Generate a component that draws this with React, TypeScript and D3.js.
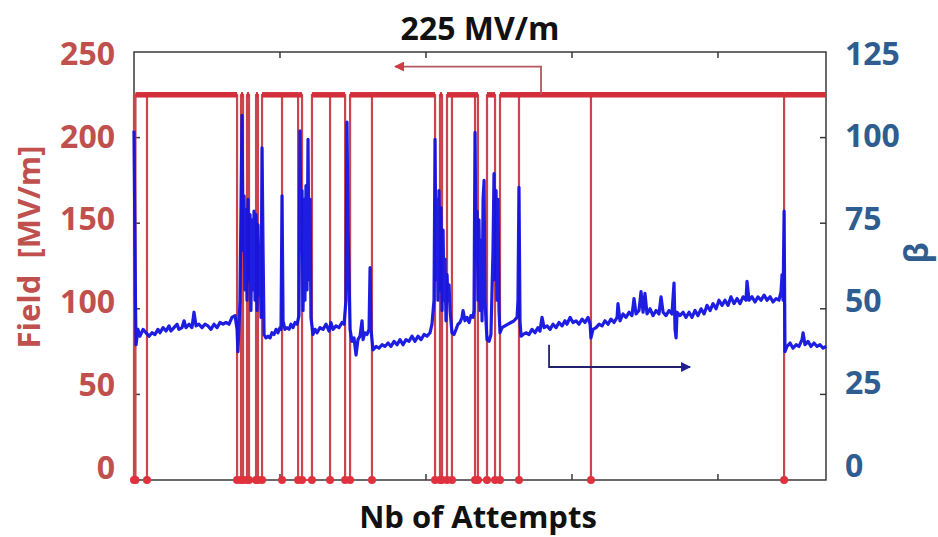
import React from 'react'
import * as d3 from 'd3'

const W = 938
const H = 537
const margin = { top: 52, right: 112, bottom: 57, left: 134 }

// x axis: number of attempts (no tick labels in the original)
const attemptsMax = 4740
const attemptTicks = [1000, 2000, 3000, 4000]

const fieldTicks = [0, 50, 100, 150, 200, 250]
const betaTicks = [0, 25, 50, 75, 100, 125]
const innerFieldTicks = [50, 100, 150, 200]
const innerBetaTicks = [25, 50, 75, 100]

const fieldLevel = 225

// periods (attempt from -> to) where the field dropped to 0 after a breakdown
const fieldDrops: [number, number][] = [
  [0, 10], [89, 89], [706, 733], [747, 774], [788, 836], [849, 877],
  [1014, 1014], [1124, 1124], [1151, 1219], [1343, 1343], [1446, 1480],
  [1630, 1630], [2062, 2096], [2110, 2144], [2178, 2178], [2336, 2336],
  [2356, 2418], [2473, 2507], [2637, 2637], [3130, 3130], [4453, 4453],
]

// field enhancement factor beta vs attempt
const betaTrace: [number, number][] = [
  [0, 102], [10, 52.5], [14, 39.5], [27, 44], [41, 42], [62, 44], [82, 43], [103, 42],
  [123, 43], [144, 42.5], [164, 44], [178, 43], [199, 44.5], [219, 43.5], [240, 45],
  [253, 43.5], [274, 44.5], [295, 45.5], [308, 44], [329, 44.5], [343, 46.5], [356, 44.5],
  [377, 45.5], [397, 44.5], [411, 49], [425, 45], [445, 45.5], [466, 44.5], [486, 45.5],
  [507, 45], [527, 44], [548, 45.5], [569, 44.5], [589, 46], [610, 45.5], [630, 46],
  [651, 45.5], [671, 47.5], [692, 48], [706, 44], [712, 37.5], [726, 52.5], [740, 106.5],
  [747, 67], [754, 83], [760, 55.5], [767, 79], [774, 52.5], [781, 82], [788, 58.5],
  [795, 77.5], [801, 49.5], [808, 76], [815, 55.5], [822, 78.5], [829, 52.5], [836, 77.5],
  [843, 49.5], [849, 74.5], [856, 54], [863, 64.5], [870, 47.5], [877, 97], [884, 67],
  [891, 42.5], [904, 41.5], [918, 42], [932, 41.5], [945, 43], [959, 42.5], [973, 44],
  [986, 43], [1000, 44.5], [1007, 44], [1014, 83], [1021, 46.5], [1034, 44], [1048, 44.5],
  [1062, 44], [1075, 45.5], [1089, 44.5], [1103, 46], [1117, 45.5], [1130, 48], [1137, 102],
  [1144, 67], [1151, 84.5], [1158, 49.5], [1165, 82], [1171, 52.5], [1178, 86], [1185, 55.5],
  [1192, 99.5], [1199, 58.5], [1206, 82], [1212, 47.5], [1226, 42.5], [1240, 44], [1254, 43],
  [1274, 44.5], [1295, 44], [1315, 45.5], [1336, 43.5], [1349, 46], [1363, 44], [1384, 45],
  [1404, 44.5], [1425, 46], [1439, 45.5], [1452, 52.5], [1459, 104.5], [1466, 73], [1473, 58.5],
  [1480, 44], [1493, 40.5], [1507, 41.5], [1521, 36.5], [1534, 41], [1548, 42], [1562, 46.5],
  [1569, 41], [1582, 43], [1596, 42.5], [1610, 44], [1617, 62], [1623, 44], [1637, 38],
  [1658, 39], [1678, 38.5], [1699, 39.5], [1719, 39], [1740, 40], [1760, 39], [1781, 40.5],
  [1802, 39.5], [1822, 41], [1843, 39.5], [1863, 41], [1884, 40.5], [1904, 42], [1925, 40.5],
  [1945, 42], [1966, 41], [1987, 42.5], [2007, 42], [2028, 43], [2041, 45.5], [2055, 52.5],
  [2062, 99.5], [2069, 58.5], [2076, 82], [2082, 52.5], [2089, 84.5], [2096, 55.5], [2103, 79.5],
  [2110, 49.5], [2117, 73], [2124, 52.5], [2130, 64.5], [2137, 46.5], [2144, 60], [2151, 52.5],
  [2158, 57], [2165, 49.5], [2178, 43], [2192, 42.5], [2206, 44], [2219, 45.5], [2233, 46],
  [2247, 47.5], [2254, 49.5], [2267, 46.5], [2281, 47.5], [2295, 46], [2308, 48], [2322, 47.5],
  [2329, 49.5], [2336, 101.5], [2343, 64.5], [2350, 78.5], [2356, 52.5], [2363, 76], [2370, 49.5],
  [2377, 70], [2384, 46.5], [2391, 82], [2398, 87.5], [2404, 52.5], [2411, 46.5], [2418, 41],
  [2432, 40.5], [2445, 42.5], [2459, 67], [2466, 89.5], [2473, 58.5], [2480, 84.5], [2487, 52.5],
  [2493, 82], [2500, 49.5], [2507, 43], [2521, 44.5], [2541, 45], [2562, 45.5], [2582, 46],
  [2603, 46.5], [2624, 47.5], [2630, 52.5], [2637, 85.5], [2644, 46.5], [2651, 42], [2665, 42.5],
  [2685, 43], [2706, 42.5], [2726, 44], [2747, 43], [2767, 44.5], [2781, 43.5], [2795, 47.5],
  [2809, 44.5], [2829, 45], [2850, 44], [2870, 45.5], [2891, 44.5], [2911, 46], [2932, 45],
  [2952, 46.5], [2966, 45.5], [2987, 47.5], [3007, 46], [3028, 46.5], [3048, 45.5], [3069, 47],
  [3089, 46], [3110, 47.5], [3124, 45.5], [3130, 41.5], [3144, 44], [3165, 44.5], [3185, 45.5],
  [3206, 45], [3226, 46.5], [3247, 45.5], [3267, 47], [3288, 46], [3309, 47.5], [3315, 51.5],
  [3329, 46.5], [3350, 48.5], [3370, 47.5], [3391, 49], [3411, 48], [3425, 53], [3439, 48.5],
  [3459, 49.5], [3473, 55], [3487, 49], [3500, 54.5], [3514, 48.5], [3535, 50], [3555, 48],
  [3576, 49.5], [3596, 48.5], [3610, 53.5], [3624, 49], [3644, 48], [3665, 49.5], [3685, 48.5],
  [3699, 57.5], [3706, 44], [3713, 41.5], [3720, 49], [3740, 48], [3761, 49], [3781, 47.5],
  [3802, 49], [3822, 47.5], [3843, 49.5], [3863, 48], [3884, 50], [3905, 48.5], [3925, 51],
  [3946, 49.5], [3966, 51.5], [3987, 50], [4007, 52.5], [4028, 51], [4048, 52.5], [4069, 51],
  [4089, 53.5], [4110, 51.5], [4131, 53], [4151, 51.5], [4172, 53.5], [4192, 52.5], [4199, 58],
  [4213, 52.5], [4233, 53.5], [4254, 52], [4274, 53.5], [4295, 52.5], [4316, 54], [4336, 52.5],
  [4357, 53.5], [4377, 52], [4398, 53], [4418, 52.5], [4432, 55], [4439, 60], [4446, 52.5],
  [4453, 78.5], [4459, 37.5], [4473, 39], [4494, 40], [4514, 38.5], [4535, 39.5], [4555, 39],
  [4576, 41], [4583, 43], [4596, 39.5], [4617, 40.5], [4637, 39], [4658, 40], [4679, 39],
  [4699, 39.5], [4720, 38.5], [4740, 39],
]

// annotation arrows (which axis each curve belongs to)
const fieldArrow: [number, number][] = [[2788, 225], [2788, 241.5], [1788, 241.5]]
const betaArrow: [number, number][] = [[2843, 39.5], [2843, 33], [3809, 33]]

const RED_TXT = '#c0504d'
const BLUE_TXT = '#2f5d8f'
const FONT = '"Open Sans", "DejaVu Sans", sans-serif'

export default function App() {
  const x = d3.scaleLinear().domain([0, attemptsMax]).range([margin.left, W - margin.right])
  const yField = d3.scaleLinear().domain([0, 250]).range([H - margin.bottom, margin.top])
  const yBeta = d3.scaleLinear().domain([0, 125]).range([H - margin.bottom, margin.top])
  // the tick labels were laid over the plot a little compressed
  const fieldLabelY = d3.scaleLinear().domain([0, 250]).range([466, 52.5])
  const betaLabelY = d3.scaleLinear().domain([0, 125]).range([464, 52.5])

  // build the field trace from the drop periods
  const fieldTrace: [number, number][] = [[0, fieldLevel]]
  fieldDrops.forEach(([a, b]) => {
    fieldTrace.push([a, fieldLevel], [a, 0], [b, 0], [b, fieldLevel])
  })
  fieldTrace.push([attemptsMax, fieldLevel])

  const plateaus: [number, number][] = []
  let last = 0
  fieldDrops.forEach(([a, b]) => {
    if (a > last) plateaus.push([last, a])
    last = b
  })
  plateaus.push([last, attemptsMax])

  const dots = Array.from(new Set(fieldDrops.flat()))

  const fieldLine = d3.line<[number, number]>().x(d => x(d[0])).y(d => yField(d[1]))
  const betaLine = d3.line<[number, number]>().x(d => x(d[0])).y(d => yBeta(d[1]))

  const x0 = margin.left
  const x1 = W - margin.right
  const y0 = H - margin.bottom
  const y1 = margin.top
  const tl = 6

  return (
    <svg width={W} height={H} style={{ position: 'absolute', left: 0, top: 0, background: '#fff' }}
      fontFamily={FONT} fontWeight="bold">
      <defs>
        <marker id="headRed" viewBox="0 0 10 10" refX="9" refY="5" markerWidth="10" markerHeight="10"
          markerUnits="userSpaceOnUse" orient="auto" >
          <path d="M0,0 L10,5 L0,10 Z" fill="#d23a45" />
        </marker>
        <marker id="headBlue" viewBox="0 0 10 10" refX="9" refY="5" markerWidth="10" markerHeight="10"
          markerUnits="userSpaceOnUse" orient="auto">
          <path d="M0,0 L10,5 L0,10 Z" fill="#1f1f8f" />
        </marker>
      </defs>

      {/* frame */}
      <rect x={x0} y={y1} width={x1 - x0} height={y0 - y1} fill="none" stroke="#3a3a3a" strokeWidth={1.5} />
      {attemptTicks.map(t => (
        <g key={'xt' + t} stroke="#3a3a3a" strokeWidth={1.5}>
          <line x1={x(t)} x2={x(t)} y1={y1} y2={y1 + tl} />
          <line x1={x(t)} x2={x(t)} y1={y0} y2={y0 - tl} />
        </g>
      ))}
      {innerFieldTicks.map(t => (
        <line key={'ft' + t} x1={x0} x2={x0 + tl} y1={yField(t)} y2={yField(t)} stroke="#3a3a3a" strokeWidth={1.5} />
      ))}
      {innerBetaTicks.map(t => (
        <line key={'bt' + t} x1={x1} x2={x1 - tl} y1={yBeta(t)} y2={yBeta(t)} stroke="#3a3a3a" strokeWidth={1.5} />
      ))}

      {/* field trace */}
      <path d={fieldLine(fieldTrace) || ''} fill="none" stroke="#c9464e" strokeWidth={2.2} strokeLinejoin="round" />
      {plateaus.map(([a, b], i) => (
        <line key={'pl' + i} x1={x(a)} x2={x(b)} y1={yField(fieldLevel)} y2={yField(fieldLevel)}
          stroke="#d22f3a" strokeWidth={5.5} />
      ))}
      {dots.map(d => (
        <circle key={'dot' + d} cx={x(d)} cy={yField(0)} r={4} fill="#e0323e" />
      ))}

      {/* beta trace */}
      <path d={betaLine(betaTrace) || ''} fill="none" stroke="#1212e0" strokeWidth={3.2} strokeLinejoin="round"
        opacity={0.95} />

      {/* arrows */}
      <path d={fieldLine(fieldArrow) || ''} fill="none" stroke="#b0585d" strokeWidth={1.8} markerEnd="url(#headRed)" />
      <path d={betaLine(betaArrow) || ''} fill="none" stroke="#22226a" strokeWidth={1.8} markerEnd="url(#headBlue)" />

      {/* tick labels */}
      {fieldTicks.map(t => (
        <text key={'fl' + t} x={115} y={fieldLabelY(t)} textAnchor="end" dominantBaseline="central"
          fontSize={32} fill={RED_TXT}>{t}</text>
      ))}
      {betaTicks.map(t => (
        <text key={'bl' + t} x={845} y={betaLabelY(t)} textAnchor="start" dominantBaseline="central"
          fontSize={32} fill={BLUE_TXT}>{t}</text>
      ))}

      {/* titles */}
      <text x={480} y={27} textAnchor="middle" dominantBaseline="central" fontSize={32} fill="#111">225 MV/m</text>
      <text x={478} y={516} textAnchor="middle" dominantBaseline="central" fontSize={31} fill="#111">Nb of Attempts</text>
      <text transform="translate(28,247) rotate(-90)" textAnchor="middle" dominantBaseline="central"
        fontSize={31} fill={RED_TXT} style={{ whiteSpace: 'pre' }}>{'Field  [MV/m]'}</text>
      <text transform="translate(915,253) rotate(-90)" textAnchor="middle" dominantBaseline="central"
        fontSize={32} fill={BLUE_TXT}>β</text>
    </svg>
  )
}
